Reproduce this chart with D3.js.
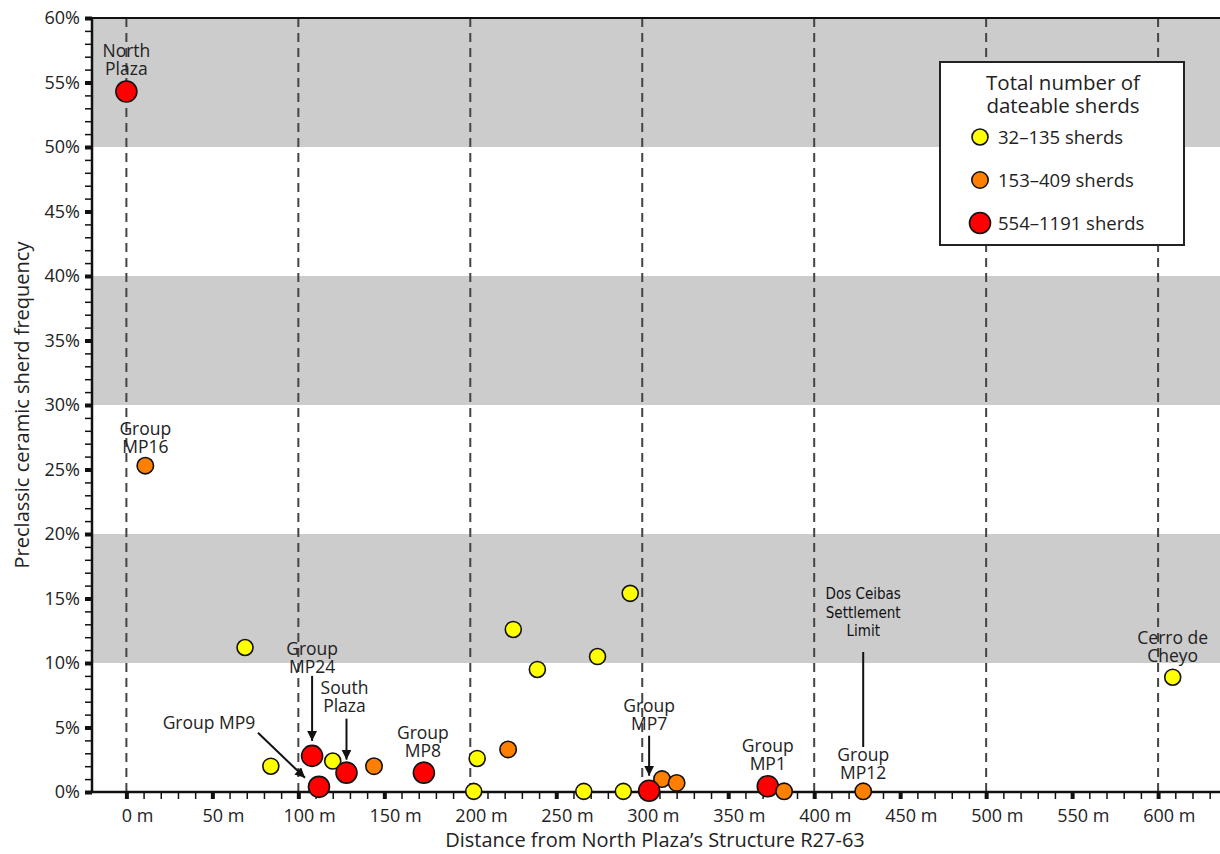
<!DOCTYPE html>
<html>
<head>
<meta charset="utf-8">
<script src="https://cdn.jsdelivr.net/npm/d3@7"></script>
<style>
  body { margin: 0; background: #fff; }
  text { font-family: "Open Sans", sans-serif; fill: #222; }
</style>
</head>
<body>
<div id="container"></div>
<script>
// data
let sites = ["North Plaza", "Group MP16", "", "", "Group MP24", "", "South Plaza", "Group MP9", "", "Group MP8",
  "", "", "", "", "", "", "", "", "", "", "", "Group MP7", "Group MP1", "", "Group MP12", "Cerro de Cheyo"];
let distance = [0, 11, 69, 84, 108, 120, 128, 112, 144, 173,
  202, 204, 222, 225, 239, 266, 274, 289, 293, 311.5, 320, 304, 373, 382.5, 428.5, 608.5];
let frequency = [54.3, 25.3, 11.2, 2.0, 2.8, 2.4, 1.5, 0.4, 2.0, 1.5,
  0.05, 2.6, 3.3, 12.6, 9.5, 0.05, 10.5, 0.05, 15.4, 1.0, 0.7, 0.1, 0.45, 0.05, 0.05, 8.9];
let sizeClass = [2, 1, 0, 0, 2, 0, 2, 2, 1, 2,
  0, 0, 1, 0, 0, 0, 0, 0, 0, 1, 1, 2, 2, 1, 1, 0];

let classLabels = ["32–135 sherds", "153–409 sherds", "554–1191 sherds"];
let classColors = ["#ffff00", "#ff7f00", "#ff0000"];
let classRadius = [8, 8.2, 10.5];

let bands = [[10, 20], [30, 40], [50, 60]];
let refLines = [0, 100, 200, 300, 400, 500, 600];

let w = 1220;
let h = 854;

let viz = d3.select("#container")
  .append("svg")
    .attr("width", w)
    .attr("height", h)
;

let xScale = d3.scaleLinear().domain([-20, 636]).range([92, 1220]);
let yScale = d3.scaleLinear().domain([0, 60]).range([792, 18]);

// grey bands
viz.append("g").selectAll("rect").data(bands).enter()
  .append("rect")
    .attr("x", xScale(-20))
    .attr("width", xScale(636) - xScale(-20))
    .attr("y", d => yScale(d[1]))
    .attr("height", d => yScale(d[0]) - yScale(d[1]))
    .attr("fill", "#cccccc")
;

// dashed reference lines
viz.append("g").selectAll("line").data(refLines).enter()
  .append("line")
    .attr("x1", d => xScale(d)).attr("x2", d => xScale(d))
    .attr("y1", yScale(60)).attr("y2", yScale(0))
    .attr("stroke", "#444")
    .attr("stroke-width", 2)
    .attr("stroke-dasharray", "9,6")
;

// frame lines
viz.append("line")
  .attr("x1", xScale(-20)).attr("x2", xScale(636))
  .attr("y1", yScale(60)).attr("y2", yScale(60))
  .attr("stroke", "#111").attr("stroke-width", 2);

// x axis
let xAxis = d3.axisBottom(xScale)
  .tickValues(d3.range(0, 631, 10))
  .tickSize(7)
  .tickPadding(10)
  .tickFormat(d => d % 50 == 0 ? d + " m" : "");
let xAxisGroup = viz.append("g")
  .attr("transform", "translate(0," + yScale(0) + ")")
  .call(xAxis);
xAxisGroup.select(".domain").remove();
xAxisGroup.selectAll(".tick line")
  .attr("stroke", "#111")
  .attr("stroke-width", d => d % 50 == 0 ? 4 : 1.5);
xAxisGroup.selectAll(".tick text")
  .style("font-family", "Open Sans")
  .style("font-size", "18px")
  .attr("fill", "#222")
  .attr("dx", function(d) {
    // centre the number, not the unit
    let full = this.getComputedTextLength();
    let t = d3.select(this).text();
    d3.select(this).text(String(d));
    let num = this.getComputedTextLength();
    d3.select(this).text(t);
    return (full - num) / 2;
  });

// y axis
let yAxis = d3.axisLeft(yScale)
  .tickValues(d3.range(0, 61, 1))
  .tickSize(7)
  .tickPadding(5)
  .tickFormat(d => d % 5 == 0 ? d + "%" : "");
let yAxisGroup = viz.append("g")
  .attr("transform", "translate(" + xScale(-20) + ",0)")
  .call(yAxis);
yAxisGroup.select(".domain").remove();
yAxisGroup.selectAll(".tick line")
  .attr("stroke", "#111")
  .attr("stroke-width", d => d % 5 == 0 ? 4 : 1.5);
yAxisGroup.selectAll(".tick text")
  .style("font-family", "Open Sans")
  .style("font-size", "18px")
  .attr("fill", "#222");

viz.append("line")
  .attr("x1", xScale(-20)).attr("x2", xScale(-20))
  .attr("y1", yScale(60) - 1).attr("y2", yScale(0) + 1)
  .attr("stroke", "#111").attr("stroke-width", 2.5);
viz.append("line")
  .attr("x1", xScale(-20)).attr("x2", xScale(636))
  .attr("y1", yScale(0)).attr("y2", yScale(0))
  .attr("stroke", "#111").attr("stroke-width", 2.5);

// axis titles
viz.append("text")
  .attr("x", 655).attr("y", 847)
  .attr("text-anchor", "middle")
  .style("font-size", "20px")
  .text("Distance from North Plaza’s Structure R27-63");
viz.append("text")
  .attr("transform", "translate(29,405) rotate(-90)")
  .attr("text-anchor", "middle")
  .style("font-size", "20px")
  .text("Preclassic ceramic sherd frequency");

// annotations (offsets relative to the site's point)
let notes = [
  { site: "North Plaza", lines: ["North", "Plaza"], dx: 0, dy: -35 },
  { site: "Group MP16", lines: ["Group", "MP16"], dx: 0, dy: -31 },
  { site: "Group MP24", lines: ["Group", "MP24"], dx: 0, dy: -101, arrow: [0, -80, 0, -15] },
  { site: "South Plaza", lines: ["South", "Plaza"], dx: -2, dy: -79, arrow: [0, -54, 0, -13] },
  { site: "Group MP9", lines: ["Group MP9"], dx: -110, dy: -58, arrow: [-61, -54, -14, -9] },
  { site: "Group MP8", lines: ["Group", "MP8"], dx: -1, dy: -34 },
  { site: "Group MP7", lines: ["Group", "MP7"], dx: 0, dy: -79, arrow: [0, -55, 0, -15] },
  { site: "Group MP1", lines: ["Group", "MP1"], dx: 0, dy: -34 },
  { site: "Group MP12", lines: ["Group", "MP12"], dx: 0, dy: -30 },
  { site: "Cerro de Cheyo", lines: ["Cerro de", "Cheyo"], dx: 0, dy: -33 }
];

viz.append("defs").append("marker")
  .attr("id", "arrow")
  .attr("viewBox", "0 0 10 10")
  .attr("refX", 10).attr("refY", 5)
  .attr("markerWidth", 5).attr("markerHeight", 5)
  .attr("markerUnits", "strokeWidth")
  .attr("orient", "auto")
  .append("path")
    .attr("d", "M0,0 L10,5 L0,10 z")
    .attr("fill", "#111");

let noteGroup = viz.append("g");
notes.forEach(n => {
  let i = sites.indexOf(n.site);
  let px = xScale(distance[i]);
  let py = yScale(frequency[i]);
  let label = noteGroup.append("text")
    .attr("x", px + n.dx)
    .attr("y", py + n.dy)
    .attr("text-anchor", "middle")
    .style("font-size", "17.5px");
  n.lines.forEach((l, k) => {
    label.append("tspan")
      .attr("x", px + n.dx)
      .attr("dy", k == 0 ? 0 : 18)
      .text(l);
  });
  if (n.arrow) {
    noteGroup.append("line")
      .attr("x1", px + n.arrow[0]).attr("y1", py + n.arrow[1])
      .attr("x2", px + n.arrow[2]).attr("y2", py + n.arrow[3])
      .attr("stroke", "#111").attr("stroke-width", 2)
      .attr("marker-end", "url(#arrow)");
  }
});

// settlement limit marker
let limitDistance = 428.5;
let limitGroup = viz.append("g");
let limitLabel = limitGroup.append("text")
  .attr("x", xScale(limitDistance))
  .attr("y", 599)
  .attr("text-anchor", "middle")
  .style("font-family", "DejaVu Sans Condensed, DejaVu Sans")
  .style("font-stretch", "condensed")
  .style("font-size", "15px")
  .style("fill", "#111");
["Dos Ceibas", "Settlement", "Limit"].forEach((l, k) => {
  limitLabel.append("tspan")
    .attr("x", xScale(limitDistance))
    .attr("dy", k == 0 ? 0 : 18.5)
    .text(l);
});
limitGroup.append("line")
  .attr("x1", xScale(limitDistance)).attr("x2", xScale(limitDistance))
  .attr("y1", 652).attr("y2", 747)
  .attr("stroke", "#111").attr("stroke-width", 2);

// points
let points = distance.map((d, i) => ({ d: d, f: frequency[i], c: sizeClass[i] }));
viz.append("g").selectAll("circle").data(points).enter()
  .append("circle")
    .attr("cx", d => xScale(d.d))
    .attr("cy", d => yScale(d.f))
    .attr("r", d => classRadius[d.c])
    .attr("fill", d => classColors[d.c])
    .attr("stroke", "#111")
    .attr("stroke-width", 1.6)
;

// legend
let legend = viz.append("g");
legend.append("rect")
  .attr("x", 940).attr("y", 62)
  .attr("width", 244).attr("height", 183)
  .attr("fill", "#fff")
  .attr("stroke", "#222").attr("stroke-width", 2);
let legendTitle = legend.append("text")
  .attr("x", 1063).attr("y", 90)
  .attr("text-anchor", "middle")
  .style("font-size", "20.5px");
["Total number of", "dateable sherds"].forEach((l, k) => {
  legendTitle.append("tspan")
    .attr("x", 1063)
    .attr("dy", k == 0 ? 0 : 23)
    .text(l);
});
let items = legend.selectAll(".item").data(classLabels).enter()
  .append("g")
    .attr("class", "item")
    .attr("transform", (d, i) => "translate(980," + (137 + i * 43) + ")");
items.append("circle")
  .attr("r", (d, i) => classRadius[i])
  .attr("fill", (d, i) => classColors[i])
  .attr("stroke", "#111").attr("stroke-width", 1.6);
items.append("text")
  .attr("x", 18).attr("y", 6.5)
  .style("font-size", "18.5px")
  .text(d => d);
</script>
</body>
</html>
